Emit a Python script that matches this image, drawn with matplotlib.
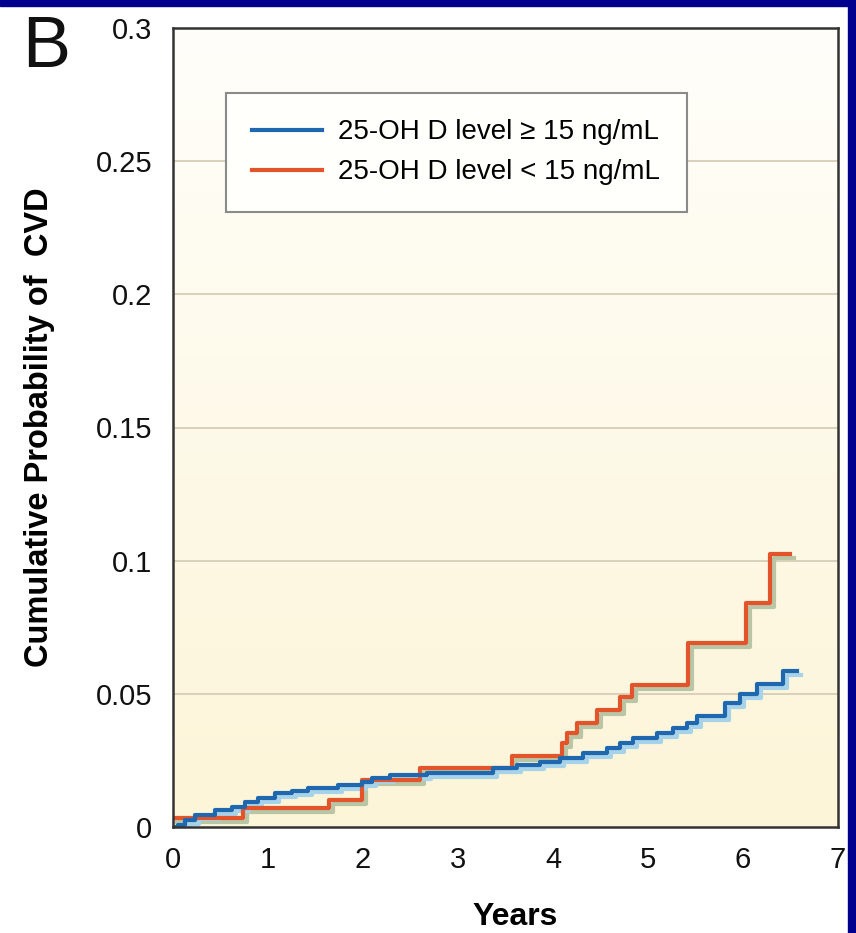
import numpy as np
import matplotlib
matplotlib.use("Agg")
import matplotlib.pyplot as plt
from matplotlib.colors import LinearSegmentedColormap
import matplotlib.transforms as mtransforms
from matplotlib.patches import Rectangle

plt.rcParams['font.family'] = ['Liberation Sans', 'DejaVu Sans']

# ---- data (Kaplan-Meier style step curves) ----
high_x = [0, 0.05, 0.13, 0.23, 0.44, 0.62, 0.76, 0.89, 1.07, 1.25, 1.42, 1.74, 1.99,
          2.09, 2.28, 2.67, 3.37, 3.62, 3.86, 4.07, 4.32, 4.57, 4.71, 4.84, 5.09,
          5.26, 5.41, 5.52, 5.81, 5.97, 6.15, 6.42, 6.57]
high_y = [0, 0.0008, 0.0026, 0.0045, 0.0064, 0.0075, 0.0094, 0.011, 0.0128, 0.0135,
          0.0146, 0.0158, 0.0169, 0.0184, 0.0195, 0.0203, 0.0221, 0.0233, 0.0244,
          0.026, 0.0278, 0.0296, 0.0315, 0.0334, 0.0353, 0.0371, 0.039, 0.0418,
          0.0465, 0.050, 0.0536, 0.0585, 0.0585]

low_x = [0, 0.74, 1.64, 1.99, 2.60, 3.57, 4.09, 4.15, 4.25, 4.46, 4.71, 4.83, 5.42,
         6.03, 6.28, 6.49]
low_y = [0.0034, 0.0071, 0.0101, 0.0176, 0.0221, 0.0266, 0.0315, 0.0353, 0.039,
         0.0439, 0.0488, 0.0533, 0.069, 0.084, 0.1024, 0.1024]

labels = ["25-OH D level \u2265 15 ng/mL", "25-OH D level < 15 ng/mL"]
x_ticks = [0, 1, 2, 3, 4, 5, 6, 7]
y_ticks = [0, 0.05, 0.1, 0.15, 0.2, 0.25, 0.3]
y_tick_labels = ["0", "0.05", "0.1", "0.15", "0.2", "0.25", "0.3"]

blue = "#1f68b0"
orange = "#e4542a"
blue_sh = "#a6d2ea"
orange_sh = "#b9c6a6"

fig = plt.figure(figsize=(8.56, 9.33), dpi=100)
fig.patch.set_facecolor("white")

# frame borders (navy)
fig.add_artist(Rectangle((0, 1 - 6 / 933), 1, 6 / 933, transform=fig.transFigure,
                         color="#00008f", zorder=10))
fig.add_artist(Rectangle((1 - 8 / 856, 0), 8 / 856, 1, transform=fig.transFigure,
                         color="#00008f", zorder=10))

ax = fig.add_axes([173 / 856, (933 - 827) / 933, (838 - 173) / 856, (827 - 28) / 933])
ax.set_xlim(0, 7)
ax.set_ylim(0, 0.3)

# gradient background
cmap = LinearSegmentedColormap.from_list("bg", ["#fdf5d8", "#fffefa"])
grad = np.linspace(0, 1, 256).reshape(-1, 1)
ax.imshow(grad, extent=[0, 7, 0, 0.3], origin="lower", aspect="auto", cmap=cmap, zorder=0)

for yv in y_ticks[1:-1]:
    ax.axhline(yv, color="#d8d0b8", lw=1.4, zorder=1)

shadow_tr = ax.transData + mtransforms.ScaledTranslation(4 / 100, -4 / 100, fig.dpi_scale_trans)

ax.step(low_x, low_y, where="post", color=orange_sh, lw=3.0, transform=shadow_tr, zorder=2)
ax.step(high_x, high_y, where="post", color=blue_sh, lw=3.0, transform=shadow_tr, zorder=2)
l2, = ax.step(low_x, low_y, where="post", color=orange, lw=3.0, zorder=3)
l1, = ax.step(high_x, high_y, where="post", color=blue, lw=3.0, zorder=4)

ax.set_xticks(x_ticks)
ax.set_yticks(y_ticks)
ax.set_yticklabels(y_tick_labels)
ax.tick_params(axis="both", length=0, labelsize=21, colors="#111111")
ax.tick_params(axis="y", pad=15)
ax.tick_params(axis="x", pad=14)
for s in ax.spines.values():
    s.set_color("#333333")
    s.set_linewidth(1.8)
    s.set_zorder(5)

ax.set_ylabel("Cumulative Probability of  CVD", fontsize=23.5, fontweight="bold")
ax.set_xlabel("Years", fontsize=23, fontweight="bold")
ax.yaxis.set_label_coords(-0.178, 0.5)
ax.xaxis.set_label_coords(0.515, -0.094)

leg = ax.legend([l1, l2], labels, loc="upper left",
                bbox_to_anchor=((226 - 173) / 665, (827 - 93) / 799),
                fontsize=20, frameon=True, fancybox=False, handlelength=2.5,
                handletextpad=0.6, borderpad=0.95, labelspacing=0.5, borderaxespad=0)
leg.get_frame().set_edgecolor("#8a8a8a")
leg.get_frame().set_linewidth(1.5)
leg.get_frame().set_facecolor("#fffffb")
leg.get_frame().set_alpha(1)

fig.text(22 / 856, 1 - 67 / 933, "B", fontsize=52, ha="left", va="baseline", color="#111111")

fig.savefig("out.png", dpi=100, facecolor="white")
